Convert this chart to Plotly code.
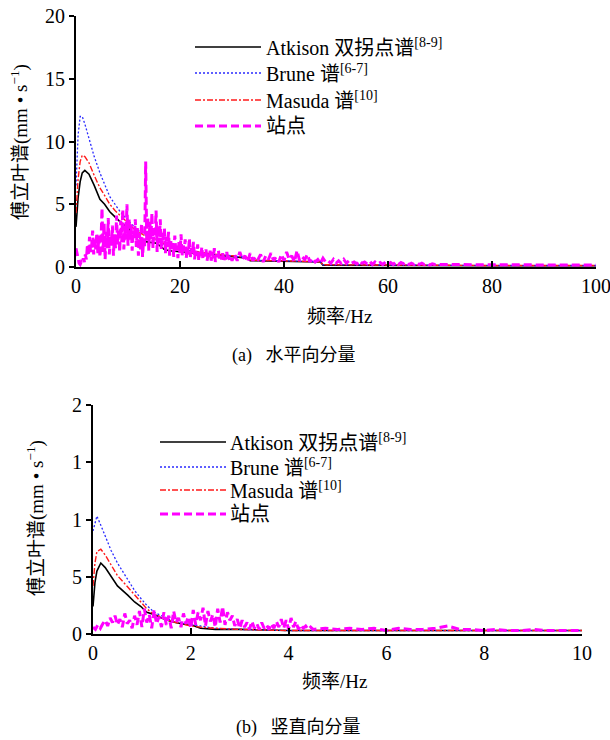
import numpy as np
import plotly.graph_objects as go

# ---------------- data: (a) horizontal component ----------------
freq_model_a = [0, 0.4, 0.8, 1.2, 1.7, 2.5, 3.5, 4.6, 5.5, 6.5, 7.5, 8.5, 10, 11, 12, 13.6, 15.5, 17, 18, 20,
                23, 26, 30, 33, 33.5, 40, 47, 47.5, 60, 80, 100]
atkison_a = [3.2, 5.5, 6.8, 7.5, 7.7, 7.4, 6.5, 5.4, 5.0, 4.4, 4.0, 3.6, 3.1, 2.7, 2.4, 2.0, 1.9, 1.4, 1.3, 1.2,
             1.1, 1.0, 0.8, 0.7, 0.5, 0.45, 0.4, 0.15, 0.12, 0.1, 0.1]
brune_a = [6.5, 10.5, 12.0, 12.0, 11.4, 10.2, 8.8, 7.5, 6.6, 5.6, 5.0, 4.4, 3.7, 3.3, 2.9, 2.5, 2.2, 1.8, 1.6, 1.4,
           1.2, 1.05, 0.9, 0.75, 0.55, 0.5, 0.42, 0.18, 0.15, 0.12, 0.12]
masuda_a = [4.3, 7.0, 8.4, 8.9, 8.8, 8.3, 7.3, 6.3, 5.7, 5.0, 4.5, 4.1, 3.5, 3.1, 2.8, 2.4, 2.2, 1.8, 1.6, 1.4,
            1.2, 1.05, 0.9, 0.75, 0.55, 0.5, 0.42, 0.18, 0.15, 0.12, 0.12]

freq_site_a = (list(np.round(np.arange(0, 30.001, 0.2), 1)) + list(np.arange(30.5, 70.01, 0.5)) + [80, 100])
site_a = [1.5, 1.1, 0.6, 0.3, 0.2, 0.4, 0.3, 0.7, 0.4, 1.0, 0.6,
          1.8, 0.9, 2.4, 1.2, 1.6, 2.9, 1.0, 2.2, 1.4, 2.7,
          1.1, 2.5, 0.8, 1.9, 4.7, 1.2, 3.5, 0.6, 2.8, 1.5,
          3.9, 1.0, 2.4, 1.7, 3.3, 0.9, 2.6, 1.5, 4.1, 1.8,
          3.0, 1.2, 3.7, 2.0, 4.6, 1.4, 3.2, 2.2, 5.0, 1.7,
          3.9, 2.1, 3.4, 1.3, 2.9, 2.3, 3.8, 1.6, 3.1, 0.9,
          2.7, 1.4, 3.5, 0.8, 2.2, 1.5, 8.4, 2.0, 4.0, 1.3,
          3.6, 2.2, 4.3, 1.5, 3.0, 2.4, 4.5, 1.2, 3.3, 1.9,
          3.8, 1.4, 2.7, 2.0, 3.1, 1.1, 2.4, 1.6, 2.8, 0.9,
          2.2, 1.3, 1.9, 0.8, 2.5, 1.2, 1.7, 0.7, 2.0, 1.1,
          2.6, 0.9, 1.8, 1.3, 2.2, 0.7, 1.6, 1.0, 2.3, 0.8,
          1.5, 1.1, 2.0, 0.6, 1.4, 0.9, 1.8, 0.5, 1.2, 0.8,
          1.6, 0.6, 1.1, 0.9, 1.4, 0.5, 1.0, 0.7, 1.3, 0.5,
          1.2, 0.7, 1.5, 0.4, 1.0, 0.8, 1.3, 0.5, 0.9, 0.6,
          1.1, 0.4, 0.8, 0.6, 1.2, 0.5, 0.9, 0.4, 0.7, 0.5,
          1.0, 0.5, 1.2, 0.6, 0.9, 0.4, 1.1, 0.5, 0.8, 0.6,
          1.0, 0.4, 0.9, 0.6, 1.1, 0.5, 0.8, 0.4, 1.0, 0.5,
          1.2, 0.6, 0.9, 0.4, 1.3, 0.5, 0.8, 0.6, 1.0, 0.4,
          0.7, 0.4, 0.6, 0.3, 0.7, 0.4, 0.5, 0.3, 0.6, 0.3,
          0.5, 0.3, 0.6, 0.3, 0.5, 0.3, 0.4, 0.25, 0.5, 0.3,
          0.4, 0.25, 0.45, 0.2, 0.4, 0.25, 0.35, 0.2, 0.4, 0.25,
          0.35, 0.2, 0.4, 0.2, 0.35, 0.25, 0.4, 0.2, 0.3, 0.2,
          0.35, 0.2, 0.3, 0.2, 0.3, 0.15, 0.25, 0.2, 0.2, 0.15,
          0.15, 0.15]

# ---------------- data: (b) vertical component ----------------
freq_model_b = [0, 0.04, 0.08, 0.16, 0.25, 0.37, 0.5, 0.71, 0.85, 0.98, 1.1, 1.25, 1.4, 1.6, 1.8, 2.0, 2.2, 2.5,
                3, 4, 6, 10]
atkison_b = [0.24, 0.45, 0.55, 0.62, 0.58, 0.50, 0.42, 0.34, 0.28, 0.24, 0.19, 0.17, 0.14, 0.11, 0.09, 0.08, 0.05,
             0.04, 0.04, 0.03, 0.03, 0.03]
brune_b = [0.9, 0.98, 1.03, 0.95, 0.86, 0.73, 0.62, 0.47, 0.38, 0.31, 0.25, 0.19, 0.16, 0.12, 0.10, 0.08, 0.07,
           0.05, 0.04, 0.03, 0.03, 0.03]
masuda_b = [0.42, 0.62, 0.72, 0.74, 0.69, 0.60, 0.51, 0.41, 0.34, 0.28, 0.22, 0.17, 0.15, 0.11, 0.09, 0.07, 0.06,
            0.05, 0.04, 0.03, 0.03, 0.03]

freq_site_b = list(np.round(np.arange(0, 4.501, 0.05), 2)) + list(np.arange(4.75, 10.01, 0.25))
site_b = [0.06, 0.04, 0.08, 0.05, 0.09, 0.12, 0.07, 0.14, 0.10, 0.16, 0.08,
          0.13, 0.06, 0.18, 0.09, 0.12, 0.05, 0.16, 0.08, 0.20, 0.06,
          0.22, 0.10, 0.17, 0.05, 0.21, 0.09, 0.15, 0.06, 0.19, 0.08,
          0.16, 0.05, 0.20, 0.10, 0.14, 0.06, 0.18, 0.09, 0.15, 0.05,
          0.21, 0.08, 0.19, 0.12, 0.23, 0.07, 0.20, 0.11, 0.17, 0.06,
          0.22, 0.10, 0.24, 0.08, 0.19, 0.12, 0.16, 0.07, 0.13, 0.05,
          0.12, 0.06, 0.10, 0.04, 0.11, 0.05, 0.09, 0.04, 0.10, 0.05,
          0.08, 0.04, 0.09, 0.05, 0.11, 0.06, 0.13, 0.05, 0.12, 0.04,
          0.14, 0.06, 0.11, 0.04, 0.08, 0.05, 0.07, 0.04, 0.06, 0.04,
          0.05, 0.04, 0.05, 0.04, 0.05, 0.03, 0.05, 0.04, 0.04, 0.05, 0.07, 0.04, 0.04, 0.03, 0.04, 0.03,
          0.03, 0.04, 0.03, 0.03, 0.03, 0.03]

ytick_vals_a = [0, 5, 10, 15, 20]
ytick_text_a = ["0", "5", "10", "15", "20"]
xtick_vals_a = [0, 20, 40, 60, 80, 100]
ytick_vals_b = [0, 0.5, 1, 1.5, 2]
ytick_text_b = ["0", "5", "1", "1", "2"]
xtick_vals_b = [0, 2, 4, 6, 8, 10]

names = ["Atkison 双拐点谱<sup>[8-9]</sup>", "Brune 谱<sup>[6-7]</sup>",
         "Masuda 谱<sup>[10]</sup>", "站点"]
styles = [dict(color="black", width=1.6, dash="solid"),
          dict(color="#2a2aff", width=1.3, dash="2px,2px"),
          dict(color="#ff1a1a", width=1.4, dash="6px,2px,2px,2px"),
          dict(color="#ff00ff", width=3, dash="8px,4px")]

FONT = "Liberation Serif, Times New Roman, Noto Sans CJK SC, serif"
W, H = 610, 740


def px(x):
    return x / W


def py(y):
    return 1 - y / H


fig = go.Figure()

series_a = [(freq_model_a, atkison_a), (freq_model_a, brune_a), (freq_model_a, masuda_a), (freq_site_a, site_a)]
series_b = [(freq_model_b, atkison_b), (freq_model_b, brune_b), (freq_model_b, masuda_b), (freq_site_b, site_b)]

for (xs, ys), st, nm in zip(series_a, styles, names):
    fig.add_trace(go.Scatter(x=xs, y=ys, mode="lines", line=st, name=nm, showlegend=False,
                             xaxis="x", yaxis="y"))
for (xs, ys), st, nm in zip(series_b, styles, names):
    fig.add_trace(go.Scatter(x=xs, y=ys, mode="lines", line=st, name=nm, showlegend=False,
                             xaxis="x2", yaxis="y2"))

axis_common = dict(showline=True, linecolor="black", linewidth=2, showgrid=False, zeroline=False,
                   ticks="outside", tickcolor="black", ticklen=5, tickwidth=1.5, automargin=False,
                   ticklabeloverflow="allow",
                   tickfont=dict(family=FONT, size=20, color="black"))
xaxis_common = {**axis_common, "ticks": "inside", "ticklen": 6}

fig.update_layout(
    width=W, height=H, margin=dict(l=0, r=0, t=0, b=0, autoexpand=False),
    paper_bgcolor="white", plot_bgcolor="white", showlegend=False,
    font=dict(family=FONT, color="black"),
    xaxis=dict(domain=[px(76), px(596)], range=[0, 100], anchor="y", tickvals=xtick_vals_a, **xaxis_common),
    yaxis=dict(domain=[py(267), py(16)], range=[0, 20], anchor="x", tickvals=ytick_vals_a,
               ticktext=ytick_text_a, **axis_common),
    xaxis2=dict(domain=[px(93), px(582)], range=[0, 10], anchor="y2", tickvals=xtick_vals_b, **xaxis_common),
    yaxis2=dict(domain=[py(634), py(405)], range=[0, 2], anchor="x2", tickvals=ytick_vals_b,
                ticktext=ytick_text_b, **axis_common),
)

ann = []
shapes = []

# legends drawn beside each panel
legend_a = dict(x0=195, x1=261, tx=264, rows=[47, 73, 100, 126])
legend_b = dict(x0=160, x1=226, tx=228, rows=[442, 467, 490, 514])
for lg in (legend_a, legend_b):
    for nm, st, ry in zip(names, styles, lg["rows"]):
        shapes.append(dict(type="line", xref="paper", yref="paper", x0=px(lg["x0"]), x1=px(lg["x1"]),
                           y0=py(ry), y1=py(ry), line=st))
        ann.append(dict(text=nm, xref="paper", yref="paper", x=px(lg["tx"]), y=py(ry), xanchor="left",
                        yanchor="middle", showarrow=False, font=dict(family=FONT, size=20, color="black")))

ytitle = "傅立叶谱(mm • s<sup>−1</sup>)"
ann.append(dict(text=ytitle, xref="paper", yref="paper", x=px(19), y=py(142), textangle=-90,
                showarrow=False, xanchor="center", yanchor="middle", font=dict(family=FONT, size=19)))
ann.append(dict(text=ytitle, xref="paper", yref="paper", x=px(35), y=py(518), textangle=-90,
                showarrow=False, xanchor="center", yanchor="middle", font=dict(family=FONT, size=19)))
ann.append(dict(text="频率/Hz", xref="paper", yref="paper", x=px(339), y=py(317), showarrow=False,
                xanchor="center", yanchor="middle", font=dict(family=FONT, size=19)))
ann.append(dict(text="频率/Hz", xref="paper", yref="paper", x=px(334), y=py(681), showarrow=False,
                xanchor="center", yanchor="middle", font=dict(family=FONT, size=19)))
ann.append(dict(text="(a)   水平向分量", xref="paper", yref="paper", x=px(293), y=py(355), showarrow=False,
                xanchor="center", yanchor="middle", font=dict(family=FONT, size=18)))
ann.append(dict(text="(b)   竖直向分量", xref="paper", yref="paper", x=px(298), y=py(727), showarrow=False,
                xanchor="center", yanchor="middle", font=dict(family=FONT, size=18)))

fig.update_layout(annotations=ann, shapes=shapes)
fig.write_html("out.html", config={"displayModeBar": False},
               post_script="document.body.style.margin='0';document.body.style.padding='0';"
                           "document.body.style.overflow='hidden';")
